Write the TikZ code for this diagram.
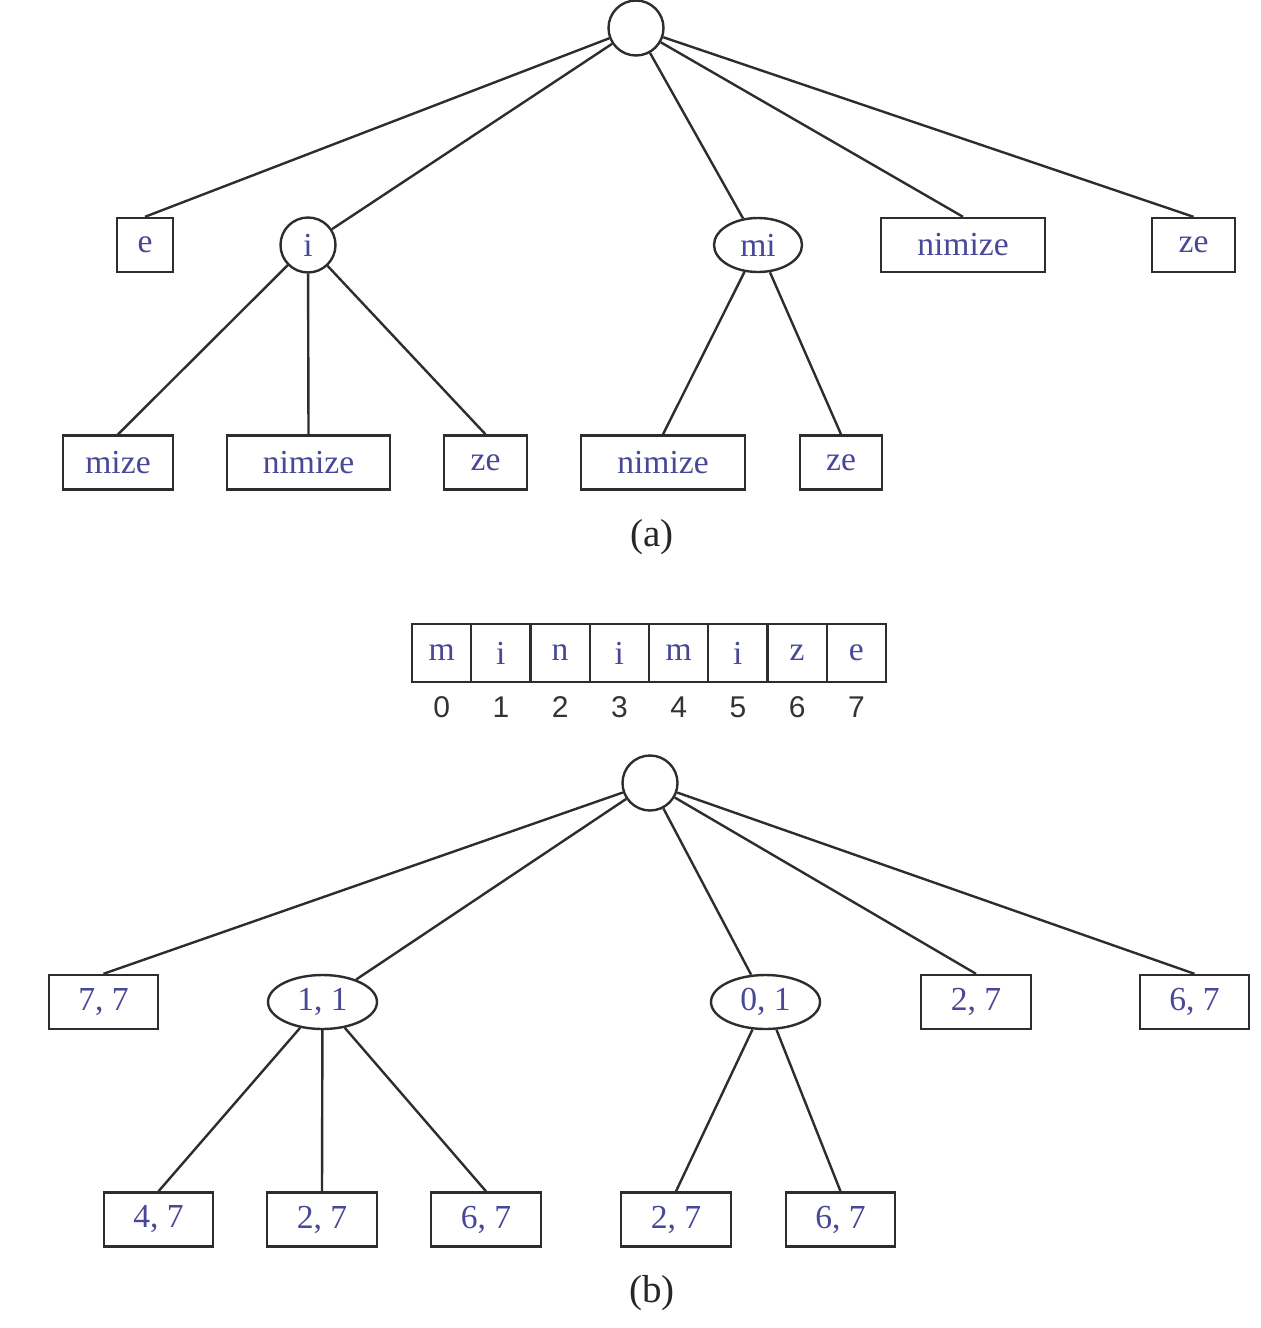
\documentclass[tikz,border=0pt]{standalone}
\usepackage{fontspec}
\setmainfont{Liberation Serif}
\newfontfamily\digitfont{Liberation Sans}
\usetikzlibrary{shapes.geometric}
\definecolor{txt}{RGB}{72,72,150}
\definecolor{ln}{RGB}{45,45,45}
\begin{document}
\begin{tikzpicture}[x=0.5pt,y=-0.5pt,
  every node/.style={inner sep=0pt, font=\fontsize{16.8}{19}\selectfont, text=txt},
  leaf/.style={draw=ln, line width=1.2pt, rectangle, minimum height=27pt},
  inner/.style={draw=ln, line width=1.2pt, ellipse, minimum height=27pt},
  roundc/.style={draw=ln, line width=1.2pt, circle, minimum size=27.5pt},
  cell/.style={draw=ln, line width=1.2pt, rectangle, minimum width=29.625pt, minimum height=29pt},
  idx/.style={font=\digitfont\fontsize{15}{18}\selectfont, text=black!80},
  caption/.style={font=\fontsize{19.5}{22}\selectfont, text=black!85},
  edge/.style={draw=ln, line width=1.2pt}]
\useasboundingbox (0,0) rectangle (1260,1328);

% ---------- (a) ----------
\node[roundc] (ra) at (636,28) {};
\node[leaf, minimum width=28pt] (ae) at (145,245) {e};
\node[roundc] (ai) at (308,245) {i};
\node[inner, minimum width=44pt] (ami) at (758,245) {mi};
\node[leaf, minimum width=82pt] (anim) at (963,245) {nimize};
\node[leaf, minimum width=41.5pt] (aze) at (1193.5,245) {ze};

\node[leaf, minimum width=55pt] (aimize) at (118,462.5) {mize};
\node[leaf, minimum width=81.5pt] (ainim) at (308.5,462.5) {nimize};
\node[leaf, minimum width=41.5pt] (aize) at (485.5,462.5) {ze};
\node[leaf, minimum width=82pt] (aminim) at (663,462.5) {nimize};
\node[leaf, minimum width=41pt] (amize) at (841,462.5) {ze};

\node[caption] (capa) at (652,537) {(a)};

\draw[edge] (ra) -- (ae.north);
\draw[edge] (ra) -- (ai);
\draw[edge] (ra) -- (ami);
\draw[edge] (ra) -- (anim.north);
\draw[edge] (ra) -- (aze.north);
\draw[edge] (ai) -- (aimize.north);
\draw[edge] (ai) -- (ainim.north);
\draw[edge] (ai) -- (aize.north);
\draw[edge] (ami) -- (aminim.north);
\draw[edge] (ami) -- (amize.north);

% ---------- array ----------
\foreach \ch [count=\k from 0] in {m,i,n,i,m,i,z,e} {
  \node[cell] (c\k) at ({441.6+59.25*\k},653) {\ch};
  \node[idx] (d\k) at ({441.6+59.25*\k},707) {\k};
}

% ---------- (b) ----------
\node[roundc] (rb) at (650,783) {};
\node[leaf, minimum width=54.5pt] (b77) at (103.5,1002) {7, 7};
\node[inner, minimum width=54.5pt] (b11) at (322.5,1002) {1, 1};
\node[inner, minimum width=54.5pt] (b01) at (765.5,1002) {0, 1};
\node[leaf, minimum width=55pt] (b27) at (976,1002) {2, 7};
\node[leaf, minimum width=54.5pt] (b67) at (1194.5,1002) {6, 7};

\node[leaf, minimum width=54.5pt] (b47a) at (158.5,1219.5) {4, 7};
\node[leaf, minimum width=55pt] (b27a) at (322,1219.5) {2, 7};
\node[leaf, minimum width=55pt] (b67a) at (486,1219.5) {6, 7};
\node[leaf, minimum width=55pt] (b27b) at (676,1219.5) {2, 7};
\node[leaf, minimum width=54.5pt] (b67b) at (840.5,1219.5) {6, 7};

\node[caption] (capb) at (652,1293) {(b)};

\draw[edge] (rb) -- (b77.north);
\draw[edge] (rb) -- (b11);
\draw[edge] (rb) -- (b01);
\draw[edge] (rb) -- (b27.north);
\draw[edge] (rb) -- (b67.north);
\draw[edge] (b11) -- (b47a.north);
\draw[edge] (b11) -- (b27a.north);
\draw[edge] (b11) -- (b67a.north);
\draw[edge] (b01) -- (b27b.north);
\draw[edge] (b01) -- (b67b.north);
\end{tikzpicture}
\end{document}
